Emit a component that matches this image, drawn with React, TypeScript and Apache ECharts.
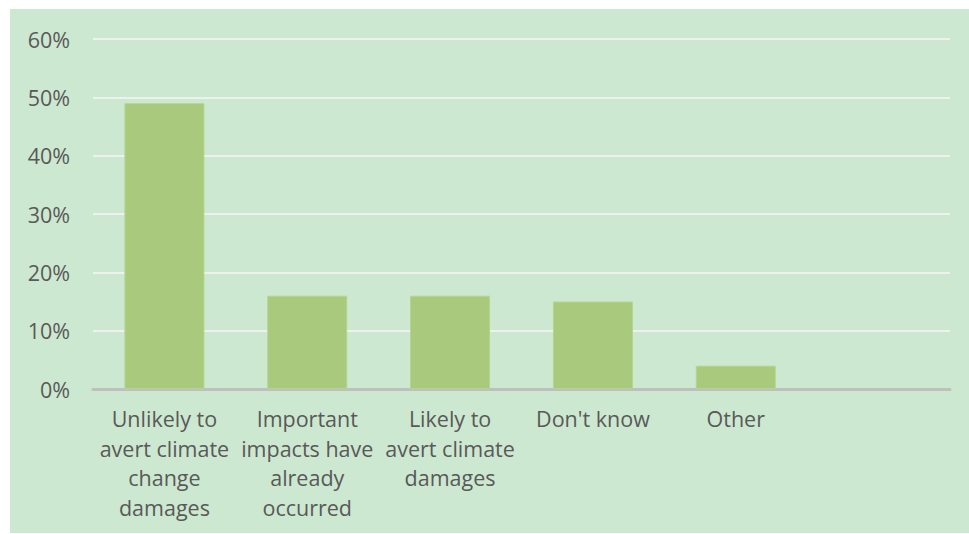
import React, { useEffect, useRef } from "react";
import * as echarts from "echarts";

const categories = [
  "Unlikely to\navert climate\nchange\ndamages",
  "Important\nimpacts have\nalready\noccurred",
  "Likely to\navert climate\ndamages",
  "Don't know",
  "Other",
  "",
];
const values = [49, 16, 16, 15, 4, null];
const yTicks = [0, 10, 20, 30, 40, 50, 60];

export default function App() {
  const ref = useRef<HTMLDivElement>(null);
  useEffect(() => {
    if (!ref.current) return;
    const chart = echarts.init(ref.current, null, { renderer: "svg" });
    chart.setOption({
      animation: false,
      backgroundColor: "#ffffff",
      textStyle: { fontFamily: "Open Sans" },
      graphic: [
        {
          type: "rect",
          z: -10,
          shape: { x: 10, y: 9, width: 959, height: 524 },
          style: { fill: "#cde8d0" },
          silent: true,
        },
      ],
      grid: { left: 93, right: 19, top: 39, bottom: 145, containLabel: false },
      xAxis: {
        type: "category",
        data: categories,
        axisTick: { show: false },
        axisLine: { show: true, lineStyle: { color: "#bfbfbf", width: 3 } },
        axisLabel: {
          interval: 0,
          color: "#595959",
          fontSize: 21.5,
          lineHeight: 29.5,
          margin: 15,
          fontFamily: "Open Sans",
        },
      },
      yAxis: {
        type: "value",
        min: yTicks[0],
        max: yTicks[yTicks.length - 1],
        interval: 10,
        axisLine: { show: false },
        axisTick: { show: false },
        splitLine: { lineStyle: { color: "#eef2ee", width: 2 } },
        axisLabel: {
          formatter: (v: number) => v + "%",
          color: "#595959",
          fontSize: 21.5,
          margin: 23,
          fontFamily: "Open Sans",
        },
      },
      series: [
        {
          type: "bar",
          data: values,
          barCategoryGap: "44%",
          itemStyle: { color: "#a9c97d", borderColor: "#b5d58c", borderWidth: 1 },
        },
      ],
    });
    return () => chart.dispose();
  }, []);
  return (
    <div
      ref={ref}
      style={{ position: "absolute", left: 0, top: 0, width: 969, height: 534 }}
    />
  );
}
